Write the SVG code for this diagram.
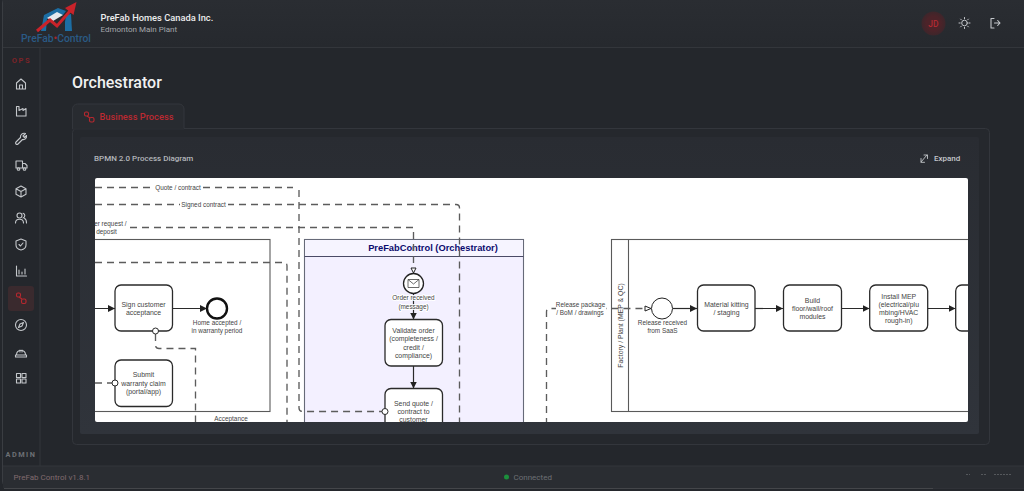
<svg xmlns="http://www.w3.org/2000/svg" width="1024" height="491" viewBox="0 0 1024 491">
<defs>
<style>
.ui{font-family:Roboto,"Liberation Sans",sans-serif}
.t{font-family:"Liberation Sans",Arial,sans-serif;font-size:6.9px;fill:#444;text-anchor:middle}
.s{font-family:"Liberation Sans",Arial,sans-serif;font-size:6.4px;fill:#444;text-anchor:middle}
.h{stroke:#fff;stroke-width:2px;paint-order:stroke;stroke-linejoin:round}
.task{fill:#fff;stroke:#2a2a2a;stroke-width:1.3}
.flow{fill:none;stroke:#2a2a2a;stroke-width:1.2}
.msg{fill:none;stroke:#5c5c5c;stroke-width:1.35;stroke-dasharray:7 5}
.bnd{fill:#fff;stroke:#2a2a2a;stroke-width:1}
.pool{fill:none;stroke:#5a5a5a;stroke-width:1.1}
.ic{fill:none;stroke:#c4c7cb;stroke-width:1.1;stroke-linecap:round;stroke-linejoin:round}
</style>
<marker id="arr" markerWidth="8" markerHeight="8" refX="7" refY="3.500" orient="auto" markerUnits="userSpaceOnUse"><path d="M0 0L7 3.500L0 7Z" fill="#222"/></marker>
<clipPath id="dia"><rect x="95" y="178" width="873" height="244" rx="2"/></clipPath>
<linearGradient id="hd" x1="0" y1="0" x2="0" y2="1"><stop offset="0" stop-color="#2a2d32"/><stop offset="1" stop-color="#26292e"/></linearGradient>
<linearGradient id="inner" x1="0" y1="0" x2="0" y2="1"><stop offset="0" stop-color="#292c32"/><stop offset="1" stop-color="#30343b"/></linearGradient>
<radialGradient id="av"><stop offset="0.6" stop-color="#4c2329"/><stop offset="1" stop-color="#3d262b"/></radialGradient>
</defs>
<rect width="1024" height="491" fill="#24272c"/>
<g id="frame">
<rect x="2.500" y="-4" width="1030" height="492" rx="7" fill="none" stroke="#3a3d42" stroke-width="1"/>
<rect x="3" y="0" width="1021" height="47" fill="url(#hd)"/>
<path d="M3 47.500H1024" stroke="#33363b" stroke-width="1"/>
<rect x="3" y="466" width="1021" height="22" fill="#2a2d32"/>
<path d="M3 466H1024" stroke="#33363b"/>
<path d="M4 488.500H933" stroke="#44464a"/>
<path d="M40 47V466" stroke="#33363b"/>
</g>
<g id="logo">
<path d="M41 31L44 15L58 8L66 11L63 15L58 13L47 19L46 31Z" fill="#1c6ea4"/>
<path d="M66 15L71 14L72 31H65L65 22Z" fill="#1c6ea4"/>
<path d="M47 18L57 12L63 15L53 21Z" fill="#e4e9ee"/>
<path d="M37 31L50 20L57 26L70 11" fill="none" stroke="#c9232a" stroke-width="3"/>
<path d="M65 8L76.500 2L73.500 15Z" fill="#c9232a"/>
<text class="ui" x="21" y="42" font-size="10.500" font-weight="500" fill="#2a5a85" textLength="70" lengthAdjust="spacingAndGlyphs">PreFab<tspan fill="#a5282d">•</tspan>Control</text>
</g>
<g id="brand" class="ui">
<text x="100.500" y="21" font-size="9.300" font-weight="500" fill="#eceded">PreFab Homes Canada Inc.</text>
<text x="100.500" y="32" font-size="8" fill="#a5a8ac">Edmonton Main Plant</text>
</g>
<g id="user">
<circle cx="933.500" cy="23.500" r="12" fill="url(#av)"/>
<text class="ui" x="933.500" y="26.500" font-size="8.500" font-weight="500" fill="#b02a32" text-anchor="middle">JD</text>
<g class="ic" style="stroke-width:1"><circle cx="964.500" cy="23" r="2.800"/><path d="M964.500 17.500V18.700M964.500 27.300V28.500M959 23H960.200M968.800 23H970M960.600 19.100L961.400 19.900M967.600 26.100L968.400 26.900M960.600 26.900L961.400 26.100M967.600 19.900L968.400 19.100"/></g>
<g class="ic"><path d="M994 18.500H991V28H994M994.500 23H1000M997.700 20.500L1000 23L997.700 25.500"/></g>
</g>
<g id="sidebar">
<text class="ui" x="21.500" y="62.500" font-size="7.500" font-weight="700" letter-spacing="1.600" fill="#7d2328" text-anchor="middle">OPS</text>
<rect x="8" y="286" width="26" height="25" rx="3" fill="#3a2a2e"/>
<g class="ic">
<path d="M16.500 83L21 79L25.500 83V89H16.500ZM19.500 89V85H22.500V89"/>
<path d="M16.500 106.500V116H26V108.500L23 110.500V108.500L19 110.500V106.500Z"/>
<path d="M25.500 133.500L23 136L24.500 137.500L26.500 135.500C27 138 25 140 22.500 139.500L18 144A1.400 1.400 0 0 1 16 142L20.500 137.500C20 135 22.500 132.500 25.500 133.500Z"/>
<path d="M16 161H22.500V168H16ZM22.500 163.500H25L27 165.500V168H22.500"/><circle cx="18.500" cy="169" r="1.300"/><circle cx="24.500" cy="169" r="1.300"/>
<path d="M21 186L26 188.800V194.200L21 197L16 194.200V188.800ZM16 188.800L21 191.500L26 188.800M21 191.500V197"/>
<circle cx="19.500" cy="215.500" r="2.500"/><path d="M15.500 223C15.500 218 23.500 218 23.500 223M23 213.200A2.500 2.500 0 0 1 23 218M24.500 218.500C26 219 26.500 221 26.500 223"/>
<path d="M21 239L26 241V245C26 248 23.500 249.500 21 250C18.500 249.500 16 248 16 245V241ZM19 244.500L20.500 246L23 243"/>
<path d="M16.500 266V276H26.500M19 270V274M22 272V274M25 269V274"/>
<circle cx="21" cy="325" r="5.500"/><path d="M23.500 322.500L22 326L18.500 327.500L20 324Z"/>
<path d="M15.500 355H26.500M16.500 355C16.500 349 25.500 349 25.500 355M15.500 355V357H26.500V355M20 350V352M22 350V352"/>
<rect x="16.500" y="373.500" width="4" height="4"/><rect x="22" y="373.500" width="4" height="4"/><rect x="16.500" y="379" width="4" height="4"/><rect x="22" y="379" width="4" height="4"/>
</g>
<g fill="none" stroke="#b8282f" stroke-width="1.100"><rect x="16.500" y="293" width="4" height="4" rx="1.500"/><rect x="21.500" y="299" width="4.500" height="4.500" rx="1.500"/><path d="M19 297L22 299"/></g>
<text class="ui" x="21" y="457" font-size="7.300" font-weight="700" letter-spacing="1.500" fill="#6d7075" text-anchor="middle">ADMIN</text>
</g>
<text id="title" class="ui" x="72" y="87.500" font-size="16" font-weight="500" fill="#f1f1f1">Orchestrator</text>
<g id="card">
<rect x="72.500" y="128.500" width="917" height="316" rx="4" fill="#25282d" stroke="#33363c"/>
<path d="M72.500 129V109a5 5 0 0 1 5-5H179a5 5 0 0 1 5 5V129Z" fill="#282b30" stroke="#33363c"/>
<path d="M73 129H184" stroke="#282b30" stroke-width="1.500"/>
<g fill="none" stroke="#b8282f" stroke-width="1.100"><rect x="84.500" y="112" width="4" height="4" rx="1.500"/><rect x="89.500" y="117.500" width="4.500" height="4.500" rx="1.500"/><path d="M87 116L90 118"/></g>
<text class="ui" x="99.500" y="119.500" font-size="9.300" font-weight="500" fill="#bc2930">Business Process</text>
<rect x="80" y="137" width="899" height="297" rx="2" fill="url(#inner)"/>
<text class="ui" x="94" y="161" font-size="8" font-weight="500" fill="#b4b7bb">BPMN 2.0 Process Diagram</text>
<g class="ic" style="stroke-width:.9"><path d="M921 162L927 155M924 155H927.500V158.500M921 158.500V162.300H924.500"/></g>
<text class="ui" x="934" y="161" font-size="8" font-weight="500" fill="#c4c7cb">Expand</text>
</g>
<rect x="95" y="178" width="873" height="244" rx="2" fill="#fff"/>
<g clip-path="url(#dia)">
<g id="pools">
<g id="pool-customer"><rect x="85" y="239.500" width="185" height="172" class="pool"/></g>
<g id="pool-orchestrator"><rect x="304.500" y="239.500" width="219" height="200" fill="#f3f0ff" stroke="#666a78" stroke-width="1.100"/><rect x="305" y="240" width="218" height="16" fill="#f6f4ff"/><path d="M304.500 256.500H523.500" stroke="#4a4a66" stroke-width="1.100"/><text x="433" y="250.500" font-family="Liberation Sans,Arial,sans-serif" font-size="9.300" font-weight="700" fill="#0b0b6e" text-anchor="middle">PreFabControl (Orchestrator)</text></g>
<g id="pool-factory"><rect x="611.500" y="239.500" width="420" height="172" class="pool"/><path d="M628.500 239.500V411.500" class="pool"/><text transform="translate(622.500 325.500) rotate(-90)" class="t">Factory / Plant (MEP &amp; QC)</text></g>
</g>
<g id="connectors">
<path class="msg" d="M95 187.500H293M299 190V408Q299 411.500 303 411.500H382"/>
<path class="msg" d="M95 204.500H456Q459.500 204.500 459.500 208V425"/>
<path class="msg" d="M130 227.500H413.500V266"/>
<path class="msg" d="M95 262.500H284Q287 262.500 287 266V425"/>
<path class="msg" d="M155.500 334V345Q155.500 348.500 159 348.500H195.500V425"/>
<path class="msg" d="M95 383H112"/>
<path class="msg" d="M546.500 425V312Q546.500 308.500 550 308.500H645"/>
<path class="flow" marker-end="url(#arr)" d="M95 308.500H115"/>
<path class="flow" marker-end="url(#arr)" d="M172.500 308.500H207"/>
<path class="flow" marker-end="url(#arr)" d="M413.500 294V319.500"/>
<path class="flow" marker-end="url(#arr)" d="M413.500 366V388.500"/>
<path class="flow" marker-end="url(#arr)" d="M673 308.500H697"/>
<path class="flow" marker-end="url(#arr)" d="M755 308.500H783"/>
<path class="flow" marker-end="url(#arr)" d="M841.500 308.500H869.500"/>
<path class="flow" marker-end="url(#arr)" d="M927.500 308.500H955.500"/>
<path d="M411 268H416L413.500 273Z" fill="#fff" stroke="#222" stroke-width="1"/>
<path d="M645 306L651 308.500L645 311Z" fill="#fff" stroke="#222" stroke-width="1"/>
</g>
<g id="label-quote"><rect x="153" y="183" width="50" height="9" fill="#fff"/><text class="s" x="178" y="190">Quote / contract</text></g>
<g id="label-signed"><rect x="180" y="200" width="48" height="9" fill="#fff"/><text class="s" x="203.500" y="207">Signed contract</text></g>
<g id="label-request"><rect x="95" y="219" width="35" height="17" fill="#fff"/><text class="s" x="105" y="225.500">Order request /</text><text class="s" x="106.500" y="233.500">deposit</text></g>
<g id="label-acceptance"><rect x="212" y="415" width="38" height="7" fill="#fff"/><text class="s" x="231" y="421">Acceptance</text></g>
<g id="label-release"><rect x="556" y="299" width="50" height="17" fill="#fff"/><text class="s" x="580.500" y="306.500">Release package</text><text class="s" x="580" y="314.500">/ BoM / drawings</text></g>
<g id="task-sign"><rect class="task" x="115" y="285" width="57.500" height="46" rx="6"/><text class="t" x="143.500" y="306.500">Sign customer</text><text class="t" x="143.500" y="315">acceptance</text><circle class="bnd" cx="155.500" cy="331" r="3"/></g>
<g id="end-home"><circle cx="217" cy="308.500" r="10" fill="#fff" stroke="#111" stroke-width="2.400"/><text class="s h" x="217" y="324.500">Home accepted /</text><text class="s h" x="217" y="332.500">in warranty period</text></g>
<g id="task-warranty"><rect class="task" x="115" y="360" width="57.500" height="46.500" rx="6"/><text class="t" x="143.500" y="376.500">Submit</text><text class="t" x="143.500" y="385.500">warranty claim</text><text class="t" x="143.500" y="393.500">(portal/app)</text><circle class="bnd" cx="115" cy="383" r="3"/></g>
<g id="start-order"><circle cx="413.500" cy="283.500" r="10" fill="#fff" stroke="#222" stroke-width="1.300"/><path d="M408 279.500H419V287.500H408ZM408 279.500L413.500 284L419 279.500" fill="none" stroke="#444" stroke-width=".8"/><text class="s h" x="413.500" y="300">Order received</text><text class="s h" x="413.500" y="308.500">(message)</text></g>
<g id="task-validate"><rect class="task" x="385" y="319.500" width="57.500" height="46.500" rx="6"/><text class="t" x="413.500" y="332.500">Validate order</text><text class="t" x="413.500" y="341">(completeness /</text><text class="t" x="413.500" y="349.500">credit /</text><text class="t" x="413.500" y="357.500">compliance)</text></g>
<g id="task-send"><rect class="task" x="385" y="388.500" width="57.500" height="46.500" rx="6"/><text class="t" x="413.500" y="405.500">Send quote /</text><text class="t" x="413.500" y="413.500">contract to</text><text class="t" x="413.500" y="422">customer</text><circle class="bnd" cx="385" cy="411.500" r="3"/></g>
<g id="start-release"><circle cx="662" cy="308.500" r="10.500" fill="#fff" stroke="#222" stroke-width="1"/><text class="s" x="662.500" y="324.500">Release received</text><text class="s" x="662.500" y="332.500">from SaaS</text></g>
<g id="task-kitting"><rect class="task" x="697.500" y="285" width="57.500" height="46" rx="6"/><text class="t" x="726.500" y="306.500">Material kitting</text><text class="t" x="726.500" y="315">/ staging</text></g>
<g id="task-build"><rect class="task" x="783.500" y="285" width="58" height="46" rx="6"/><text class="t" x="812.500" y="302.500">Build</text><text class="t" x="812.500" y="310.500">floor/wall/roof</text><text class="t" x="812.500" y="319">modules</text></g>
<g id="task-mep"><rect class="task" x="869.700" y="285" width="58" height="46" rx="6"/><text class="t" x="898.700" y="298.500">Install MEP</text><text class="t" x="898.700" y="306.500">(electrical/plu</text><text class="t" x="898.700" y="315">mbing/HVAC</text><text class="t" x="898.700" y="323">rough-in)</text></g>
<g id="task-next"><rect class="task" x="955.700" y="285" width="58" height="46" rx="6"/></g>
</g>
<g id="footer" class="ui">
<text x="13.500" y="480" font-size="8" fill="#806a6e">PreFab Control v1.8.1</text>
<circle cx="506.500" cy="477" r="2.500" fill="#1c8f3c"/>
<text x="513.500" y="480" font-size="8" fill="#6d7075">Connected</text>
<path d="M966 474.500H970M981 474.500H987M994 474.500H1011" stroke="#55585c" stroke-width="1" stroke-dasharray="2 1"/>
</g>
</svg>
